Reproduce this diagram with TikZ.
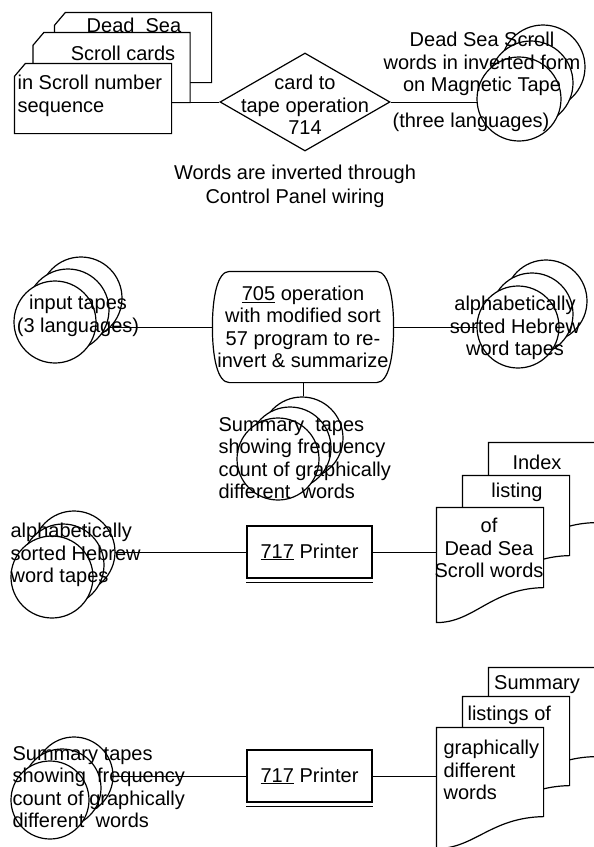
\documentclass[tikz,border=0pt]{standalone}
\usepackage{fontspec}
\setmainfont{Liberation Sans}
\usetikzlibrary{positioning,calc,backgrounds,shapes.geometric}
\newcommand{\cardoutline}[1]{%
  \draw[fill=white] ($(#1.north west)+(0,13)$) -- ($(#1.north west)+(11,0)$)
    -- (#1.north east) -- (#1.south east) -- (#1.south west) -- cycle;}
\newcommand{\docoutline}[2]{%
  \draw[fill=white] (#1.north west) -- (#1.north east) -- ($(#1.south east)+(0,-#2)$)
    .. controls +(-53,1) and +(38,0) .. (#1.south west) -- cycle;}

\begin{document}
\begin{tikzpicture}[x=1pt,y=-1pt,line width=1.2pt,
    every node/.style={font=\fontsize{20}{22.5}\selectfont},
    card/.style={minimum width=156pt,minimum height=69pt,inner sep=0pt},
    tape/.style={circle,draw,fill=white,minimum size=82pt,inner sep=0pt},
    txt/.style={align=center,inner sep=0pt},
    txtl/.style={align=left,inner sep=0pt,anchor=west},
    prn/.style={draw,minimum width=125pt,minimum height=52pt,inner sep=0pt},
    docbox/.style={minimum width=106pt,minimum height=114pt,inner sep=0pt},
    procbox/.style={minimum width=180pt,minimum height=110pt,inner sep=0pt,align=center}]
  \useasboundingbox (0,0) rectangle (594,847);

  % card to tape
  \node[card] (c3) at (133,47.5) {};
  \node[card] (c2) at (111.5,67.5) {};
  \node[card] (c1) at (93,98.5) {};
  \cardoutline{c3}
  \cardoutline{c2}
  \cardoutline{c1}
  \node[txt] (c3t) at (134,25) {Dead~ Sea};
  \node[txt] (c2t) at (123,53) {Scroll cards};
  \node[txtl] (c1t) at (17,96) {in Scroll number\\sequence};
  \node[diamond,draw,minimum width=170pt,minimum height=98pt,inner sep=0pt] (dia) at (305,102) {};
  \node[txt] (diat) at (305,105) {card to\\tape operation\\714};
  \node[txt] (cap) at (295,186) {Words are inverted through\\[1.5pt]Control Panel wiring};
  \node[tape,minimum size=84pt] (t1c) at (543,67) {};
  \node[tape,minimum size=84pt] (t1b) at (531,83) {};
  \node[tape,minimum size=84pt] (t1a) at (519,99) {};
  \node[txt] (t1t) at (482,64) {Dead Sea Scroll\\words in inverted form\\on Magnetic Tape};
  \node[txt] (t1l) at (471,122) {(three languages)};

  % sort run
  \node[tape] (tin3) at (81,298) {};
  \node[tape] (tin2) at (68,310) {};
  \node[tape] (tin1) at (55,322) {};
  \node[txt] (tint) at (78,316) {input tapes\\(3 languages)};
  \node[procbox] (proc) at (303,327) {\underline{705} operation\\with modified sort\\57 program to re-\\invert \& summarize};
  \draw ($(proc.north west)+(17,0)$) -- ($(proc.north east)+(-17,0)$)
    .. controls +(12,0) and +(0,-30) .. (proc.east)
    .. controls +(0,30) and +(12,0) .. ($(proc.south east)+(-17,0)$)
    -- ($(proc.south west)+(17,0)$)
    .. controls +(-12,0) and +(0,30) .. (proc.west)
    .. controls +(0,-30) and +(-12,0) .. ($(proc.north west)+(17,0)$);
  \node[tape] (tr3) at (546,301) {};
  \node[tape] (tr2) at (532,314) {};
  \node[tape] (tr1) at (518,327) {};
  \node[txt] (trt) at (515,328) {alphabetically\\sorted Hebrew\\word tapes};
  \node[tape] (ts3) at (302,438) {};
  \node[tape] (ts2) at (290,448) {};
  \node[tape] (ts1) at (278,459) {};
  \node[txtl] (tst) at (218,458) {Summary~ tapes\\showing frequency\\count of graphically\\different~ words};

  % index listing
  \node[tape] (t3c) at (74,552) {};
  \node[tape] (t3b) at (63,565) {};
  \node[tape] (t3a) at (52,577) {};
  \node[txtl] (t3t) at (10,555) {alphabetically\\sorted Hebrew\\word tapes};
  \node[prn] (ptr1) at (309.5,552) {\underline{717} Printer\hspace{14pt}};
  \draw ($(ptr1.south west)+(0,3.5)$) -- ($(ptr1.south east)+(0,3.5)$);
  \node[docbox] (d3c) at (542,500) {};
  \node[docbox] (d3b) at (516,533) {};
  \node[docbox] (d3a) at (490,565) {};
  \docoutline{d3c}{35}
  \docoutline{d3b}{35}
  \docoutline{d3a}{35}
  \node[txt] (d3ct) at (537,462) {Index};
  \node[txt] (d3bt) at (517,492) {listing};
  \node[txt] (d3at) at (489,548) {of\\Dead Sea\\Scroll words};

  % summary listing
  \node[tape,minimum size=78pt] (t4c) at (74,776) {};
  \node[tape,minimum size=78pt] (t4b) at (62,788) {};
  \node[tape,minimum size=78pt] (t4a) at (50,800) {};
  \node[txtl] (t4t) at (12,787) {Summary tapes\\showing~ frequency\\count of graphically\\different~ words};
  \node[prn] (ptr2) at (309.5,776) {\underline{717} Printer\hspace{14pt}};
  \draw ($(ptr2.south west)+(0,3.5)$) -- ($(ptr2.south east)+(0,3.5)$);
  \node[docbox,minimum height=120pt] (d4c) at (542,728) {};
  \node[docbox,minimum height=120pt] (d4b) at (516,757) {};
  \node[docbox,minimum height=120pt] (d4a) at (490,788) {};
  \docoutline{d4c}{32}
  \docoutline{d4b}{32}
  \docoutline{d4a}{32}
  \node[txt] (d4ct) at (537,685) {Summary};
  \node[txtl] (d4bt) at (467,715) {listings of};
  \node[txtl] (d4at) at (443,770) {graphically\\different\\words};

  \begin{scope}[on background layer]
    \draw (c1.east |- dia.west) -- (dia.west);
    \draw (dia.east) -- (dia.east -| t1a.center);
    \draw (proc.west) -- (proc.west -| tin3.center);
    \draw (proc.east) -- (proc.east -| tr1.center);
    \draw (proc.south) -- (proc.south |- ts3.north);
    \draw (ptr1.west) -- (ptr1.west -| t3c.center);
    \draw (ptr1.east) -- (ptr1.east -| d3a.west);
    \draw (ptr2.west) -- (ptr2.west -| t4c.center);
    \draw (ptr2.east) -- (ptr2.east -| d4a.west);
  \end{scope}
\end{tikzpicture}
\end{document}
